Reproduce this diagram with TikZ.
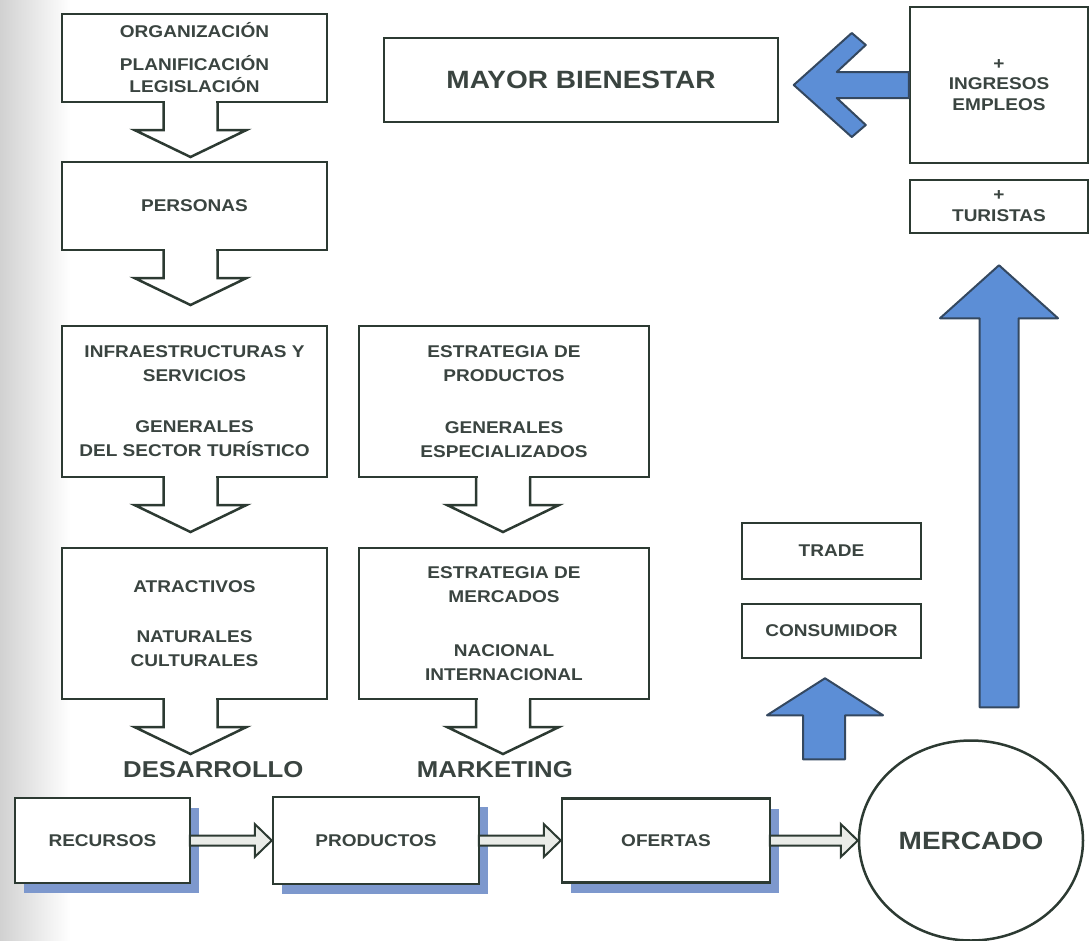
\documentclass[tikz,border=0pt]{standalone}
\usepackage{fontspec}
\setmainfont[FakeStretch=1.12]{Liberation Sans}
\usetikzlibrary{shapes.geometric, positioning, calc, shadows}
\definecolor{borde}{RGB}{44,58,50}
\definecolor{texto}{RGB}{58,68,64}
\definecolor{azul}{RGB}{92,142,214}
\definecolor{azulborde}{RGB}{52,72,96}
\definecolor{sombra}{RGB}{125,152,205}
\definecolor{hueco}{RGB}{234,236,232}
\tikzset{
  caja/.style={draw=borde, line width=2.5pt, fill=white, text=texto, inner sep=0pt, align=center, font=\fontsize{17}{22}\selectfont\bfseries},
  cajaalta/.style={caja, font=\fontsize{17}{24}\selectfont\bfseries},
  sombreada/.style={caja, drop shadow={shadow xshift=9pt, shadow yshift=-10pt, fill=sombra, opacity=1}},
  titulo/.style={text=texto, inner sep=0pt, font=\fontsize{23}{26}\selectfont\bfseries},
  bajada/.style={draw=borde, line width=2.5pt, line join=miter},
  hueca/.style={draw=borde, fill=hueco, line width=2pt},
  bloque/.style={draw=azulborde, fill=azul, line width=2pt, line join=round}
}
% hollow arrow going down from a box: #1 box, #2 x offset
\newcommand{\bajada}[2]{%
  \fill[white] ($(#1.south)+(#2-25.5,-4)$) rectangle ($(#1.south)+(#2+25.5,1)$);
  \draw[bajada] ($(#1.south)+(#2-27,-1.25)$) -- ++(0,28) -- ++(-29,0) -- ++(56,27) -- ++(56,-27) -- ++(-29,0) -- ++(0,-28);
}
% double line arrow from box #1 to box #2
\newcommand{\lado}[2]{%
  \draw[hueca] ($(#1.east |- #2.west)+(-1.5,-5)$) -- ($(#2.west)+(-17,-5)$) -- ++(0,-11.5) -- (#2.west) -- ++(-17,16.5) -- ++(0,-11.5) -- ($(#1.east |- #2.west)+(-1.5,5)$) -- cycle;
}

\begin{document}
\begin{tikzpicture}[x=1pt, y=-1pt]
    \useasboundingbox (0,0) rectangle (1092,940);
    \shade[left color=black!18, right color=white] (0,0) rectangle (70,940);

    % left column
    \node[caja, minimum width=265pt, minimum height=88pt] at (194.5,58) (org) {ORGANIZACIÓN\\[11pt]PLANIFICACIÓN\\LEGISLACIÓN};
    \node[caja, minimum width=265pt, minimum height=88pt, below=57.5pt of org] (personas) {PERSONAS};
    \node[cajaalta, minimum width=265pt, minimum height=151pt, below=73.5pt of personas] (infra) {INFRAESTRUCTURAS Y\\SERVICIOS\\[27pt]GENERALES\\DEL SECTOR TURÍSTICO};
    \node[cajaalta, minimum width=265pt, minimum height=151pt, below=68.5pt of infra] (atractivos) {ATRACTIVOS\\[26pt]NATURALES\\CULTURALES};
    \bajada{org}{-4}
    \bajada{personas}{-4}
    \bajada{infra}{-4}
    \bajada{atractivos}{-4}

    % middle column
    \node[cajaalta, minimum width=290pt, minimum height=151pt, right=29.5pt of infra] (estprod) {ESTRATEGIA DE\\PRODUCTOS\\[28pt]GENERALES\\ESPECIALIZADOS};
    \node[cajaalta, minimum width=290pt, minimum height=151pt, below=68.5pt of estprod] (estmerc) {ESTRATEGIA DE\\MERCADOS\\[30pt]NACIONAL\\INTERNACIONAL};
    \bajada{estprod}{-1}
    \bajada{estmerc}{-1}

    % top right
    \node[caja, minimum width=394pt, minimum height=84pt, font=\fontsize{25}{28}\selectfont\bfseries] at (581,80) (bienestar) {MAYOR BIENESTAR};
    \node[caja, minimum width=178pt, minimum height=156pt, font=\fontsize{17}{20.5}\selectfont\bfseries] at (999,85) (ingresos) {+\\INGRESOS\\EMPLEOS};
    \node[caja, minimum width=178pt, minimum height=53pt, font=\fontsize{17}{21}\selectfont\bfseries, below=14.5pt of ingresos] (turistas) {+\\TURISTAS};
    \draw[bloque] ($(ingresos.west)+(-115,0)$) -- ++(58,-52) -- ++(14,12) -- ++(-29,27) -- ($(ingresos.west)+(0,-13)$) -- ($(ingresos.west)+(0,13)$) -- ($(ingresos.west)+(-72,13)$) -- ++(29,27) -- ++(-14,12) -- cycle;

    \node[caja, minimum width=179pt, minimum height=56pt] at (831.5,551) (trade) {TRADE};
    \node[caja, minimum width=179pt, minimum height=54pt, below=22.5pt of trade] (consumidor) {CONSUMIDOR};

    % bottom row
    \node[titulo, anchor=base west] at (123,777) (desarrollo) {DESARROLLO};
    \node[titulo, anchor=base east] at (573,777) (marketing) {MARKETING};
    \node[sombreada, minimum width=175pt, minimum height=85pt] at (102.5,840.5) (recursos) {RECURSOS};
    \node[sombreada, minimum width=206pt, minimum height=87pt, right=80.5pt of recursos] (productos) {PRODUCTOS};
    \node[sombreada, minimum width=208pt, minimum height=84pt, right=80.5pt of productos] (ofertas) {OFERTAS};
    \node[caja, ellipse, minimum width=224pt, minimum height=200pt, font=\fontsize{25}{28}\selectfont\bfseries, right=86.5pt of ofertas] (mercado) {MERCADO};
    \lado{recursos}{productos}
    \lado{productos}{ofertas}
    \lado{ofertas}{mercado}

    % blue arrows up
    \draw[bloque] ($(consumidor.south)+(-6.5,19)$) -- ++(58,37) -- ++(-38,0) -- ++(0,44) -- ++(-42,0) -- ++(0,-44) -- ++(-36,0) -- cycle;
    \draw[bloque] ($(turistas.south)+(0,31)$) -- ++(59,53) -- ++(-39.5,0) -- ++(0,389) -- ++(-39,0) -- ++(0,-389) -- ++(-39.5,0) -- cycle;
\end{tikzpicture}
\end{document}
